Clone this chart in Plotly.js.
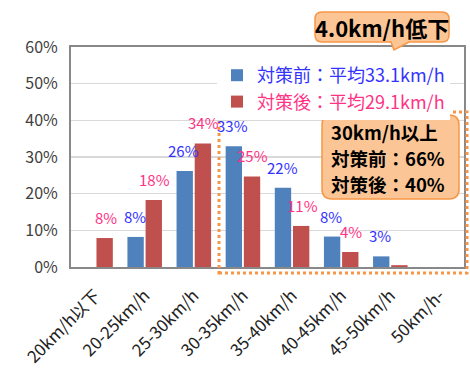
<!DOCTYPE html>
<html>
<head>
<meta charset="utf-8">
<script src="https://cdn.plot.ly/plotly-3.0.1.min.js"></script>
<style>html,body{margin:0;padding:0;background:#fff}#chart{width:470px;height:371px}</style>
</head>
<body>
<div id="chart"></div>
<script>
// ---- data ----
const categories = ['20km/h以下','20-25km/h','25-30km/h','30-35km/h','35-40km/h','40-45km/h','45-50km/h','50km/h-'];
const before = [0, 8.2, 26.2, 32.9, 21.6, 8.3, 2.9, 0];
const after  = [7.9, 18.3, 33.7, 24.7, 11.2, 4.1, 0.5, 0];
const beforeLabels = ['', '8%', '26%', '33%', '22%', '8%', '3%', ''];
const afterLabels  = ['8%', '18%', '34%', '25%', '11%', '4%', '', ''];
const beforeName = '対策前：平均33.1km/h';
const afterName  = '対策後：平均29.1km/h';
const yTicks = [0, 10, 20, 30, 40, 50, 60];
const calloutTop = '4.0km/h低下';
const calloutBox = ['30km/h以上', '対策前：66%', '対策後：40%'];

const FONT = '"Noto Sans CJK JP", "Noto Sans", sans-serif';
const BLUE = '#4f81bd', RED = '#c0504d';
const BLUE_TXT = '#3333ff', RED_TXT = '#ff3385';

// plot geometry (pixels) for decoration shapes
const L = 71, R = 464, T = 47, B = 267;
const px = x => (x - L) / (R - L);
const py = y => (B - y) / (B - T);

function roundRect(x0, y0, x1, y1, r, tail) {
  let p = `M${px(x0 + r)},${py(y0)} L${px(x1 - r)},${py(y0)} Q${px(x1)},${py(y0)} ${px(x1)},${py(y0 + r)} ` +
          `L${px(x1)},${py(y1 - r)} Q${px(x1)},${py(y1)} ${px(x1 - r)},${py(y1)} `;
  if (tail) {
    p += `L${px(tail[2])},${py(y1)} L${px(tail[1][0])},${py(tail[1][1])} L${px(tail[0])},${py(y1)} `;
  }
  p += `L${px(x0 + r)},${py(y1)} Q${px(x0)},${py(y1)} ${px(x0)},${py(y1 - r)} ` +
       `L${px(x0)},${py(y0 + r)} Q${px(x0)},${py(y0)} ${px(x0 + r)},${py(y0)} Z`;
  return p;
}

const traces = [
  {type: 'bar', x: categories, y: before, name: `<span style="color:${BLUE_TXT}">${beforeName}</span>`,
   marker: {color: BLUE}, hoverinfo: 'none'},
  {type: 'bar', x: categories, y: after, name: `<span style="color:${RED_TXT}">${afterName}</span>`,
   marker: {color: RED}, hoverinfo: 'none'}
];

const annotations = [];
categories.forEach((c, i) => {
  if (beforeLabels[i]) annotations.push({x: c, y: before[i], xref: 'x', yref: 'y', text: beforeLabels[i],
    showarrow: false, xshift: -10, yshift: 8, yanchor: 'bottom', font: {family: FONT, size: 15, color: BLUE_TXT}});
  if (afterLabels[i]) annotations.push({x: c, y: after[i], xref: 'x', yref: 'y', text: afterLabels[i],
    showarrow: false, xshift: 10, yshift: 8, yanchor: 'bottom', font: {family: FONT, size: 15, color: RED_TXT}});
});
annotations.push({xref: 'paper', yref: 'paper', x: px(382), y: py(27), text: '<b>' + calloutTop + '</b>',
  showarrow: false, xanchor: 'center', yanchor: 'middle', font: {family: FONT, size: 22, color: '#000'}});
calloutBox.forEach((t, k) => {
  annotations.push({xref: 'paper', yref: 'paper', x: px(329), y: py(132 + 26 * k), text: '<b>' + t + '</b>',
    showarrow: false, xanchor: 'left', yanchor: 'middle', font: {family: FONT, size: 18.5, color: '#000'}});
});

const shapes = [
  {type: 'rect', xref: 'paper', yref: 'paper', x0: px(219), x1: px(467), y0: py(273), y1: py(112),
   line: {color: '#f79646', width: 3, dash: 'dot'}, fillcolor: 'rgba(0,0,0,0)', layer: 'above'},
  {type: 'path', xref: 'paper', yref: 'paper', path: roundRect(322, 115, 459, 199, 10),
   fillcolor: '#fcc595', line: {color: '#f79646', width: 1.5}, layer: 'above'},
  {type: 'path', xref: 'paper', yref: 'paper', path: roundRect(315, 12, 449, 42, 7, [391, [394, 50], 409]),
   fillcolor: '#fcc595', line: {color: '#f79646', width: 1.5}, layer: 'above'}
];

const layout = {
  width: 470, height: 371,
  margin: {l: L, r: 470 - R, t: T, b: 371 - B},
  paper_bgcolor: '#fff', plot_bgcolor: '#fff',
  font: {family: FONT, color: '#404040'},
  barmode: 'group', bargap: 0.26, bargroupgap: 0.1,
  showlegend: true,
  legend: {x: px(217), y: py(57), xanchor: 'left', yanchor: 'top', bgcolor: '#fff', borderwidth: 0,
    font: {family: FONT, size: 18}, itemwidth: 30, tracegroupgap: 0},
  xaxis: {type: 'category', tickangle: -45, tickfont: {family: FONT, size: 17, color: '#222'},
    showline: true, linecolor: '#888', linewidth: 2, mirror: true, ticks: '', showgrid: false,
    ticklabelstandoff: 10},
  yaxis: {range: [0, 60], tickvals: yTicks, ticktext: yTicks.map(v => v + '%'),
    tickfont: {family: FONT, size: 16, color: '#404040'}, showgrid: true, gridcolor: '#d9d9d9', gridwidth: 1.5,
    showline: true, linecolor: '#888', linewidth: 2, mirror: true, ticks: '', zeroline: false,
    ticklabelstandoff: 8},
  annotations: annotations,
  shapes: shapes
};

Plotly.newPlot('chart', traces, layout, {staticPlot: true});
</script>
</body>
</html>
